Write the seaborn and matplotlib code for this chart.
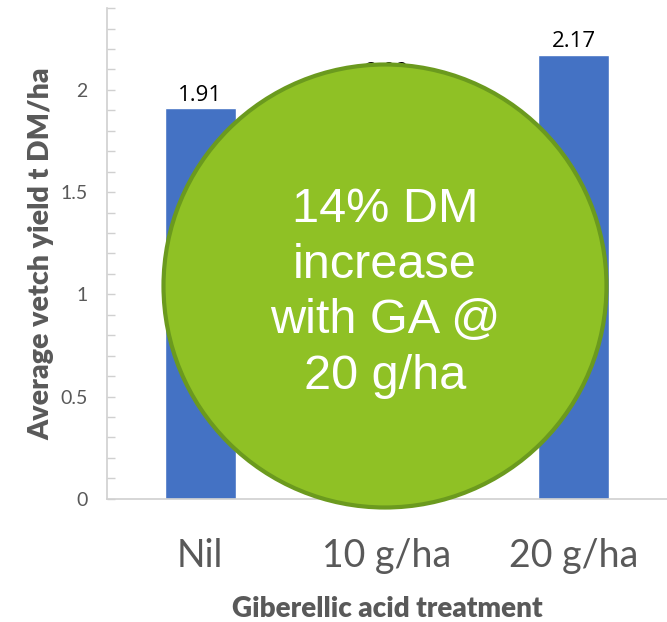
import numpy as np
import pandas as pd
import matplotlib
matplotlib.use("Agg")
import matplotlib.pyplot as plt
from matplotlib.patches import Ellipse
from matplotlib.ticker import MultipleLocator
import seaborn as sns

# data
treatments = ["Nil", "10 g/ha", "20 g/ha"]
yield_t_dm = [1.91, 2.02, 2.17]
bar_labels = ["1.91", "2.02", "2.17"]
callout = "14% DM\nincrease\nwith GA @\n20 g/ha"

df = pd.DataFrame({"treatment": treatments, "yield": yield_t_dm})

sns.set_style("white")
plt.rcParams["font.family"] = ["Lato", "DejaVu Sans"]

fig = plt.figure(figsize=(6.67, 6.22), dpi=100)
ax = fig.add_axes([0.160, 0.198, 0.840, 0.789])

sns.barplot(data=df, x="treatment", y="yield", color="#4472C4",
            saturation=1, width=0.38, ax=ax, zorder=2)

for p, lab in zip(ax.patches, bar_labels):
    ax.annotate(lab, (p.get_x() + p.get_width() / 2, p.get_height()),
                xytext=(0, 2), textcoords="offset points",
                ha="center", va="bottom", fontsize=16, color="black",
                family=["Open Sans", "DejaVu Sans"])

ax.set_xlim(-0.5, 2.5)
ax.set_ylim(0, 2.4)
ax.yaxis.set_major_locator(MultipleLocator(0.5))
ax.yaxis.set_minor_locator(MultipleLocator(0.1))
ax.set_yticks([0, 0.5, 1, 1.5, 2])
ax.set_yticklabels(["0", "0.5", "1", "1.5", "2"])

for s in ["top", "right"]:
    ax.spines[s].set_visible(False)
for s in ["left", "bottom"]:
    ax.spines[s].set_color("#d0d0d0")
    ax.spines[s].set_linewidth(1.2)

ax.tick_params(axis="y", which="both", direction="in", length=6,
               color="#d0d0d0", width=1, labelsize=14,
               labelcolor="#595959", pad=14, left=True)
ax.tick_params(axis="x", length=0, labelsize=27, labelcolor="#595959", pad=28)

ax.set_xlabel("Giberellic acid treatment", fontsize=20, fontweight="heavy",
              color="#595959", labelpad=16)
ax.set_ylabel("Average vetch yield t DM/ha", fontsize=20.5, fontweight="heavy",
              color="#595959", labelpad=4)

# green callout bubble
circ = Ellipse((385 / 667, 1 - 286 / 622), 443 / 667, 443 / 622,
               transform=fig.transFigure, facecolor="#8FC125",
               edgecolor="#6B9A1E", linewidth=3, zorder=10)
fig.add_artist(circ)
fig.text(385 / 667, 1 - 293 / 622, callout, ha="center", va="center",
         fontsize=35, color="white", linespacing=1.31, zorder=11,
         family=["Liberation Sans", "DejaVu Sans"])

fig.savefig("out.png", dpi=100)
